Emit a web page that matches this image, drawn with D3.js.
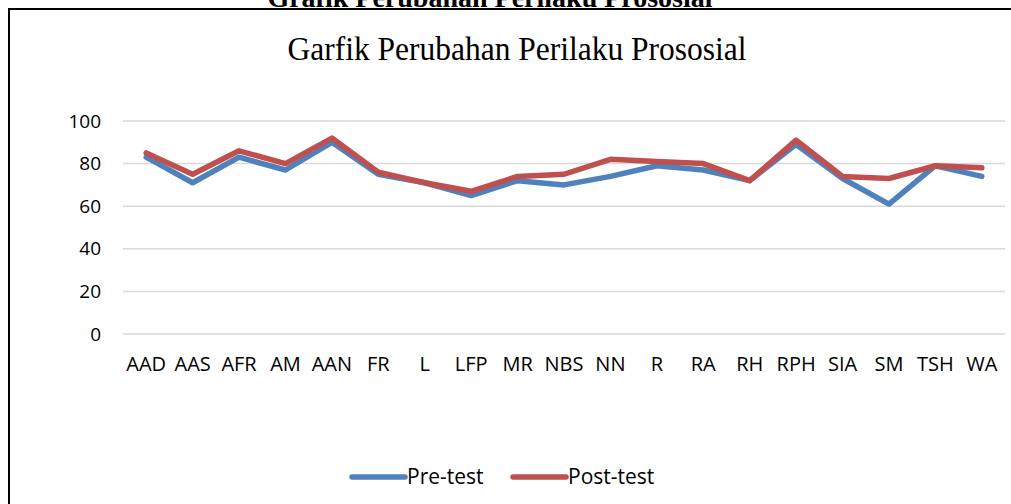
<!DOCTYPE html>
<html>
<head>
    <meta charset="UTF-8">
    <style>
        body { margin: 0; background: #fff; }
        svg { display: block; }
    </style>
</head>
<body>
    <svg></svg>
    <script src="https://d3js.org/d3.v7.min.js"></script>
    <script>
        const width = 1011, height = 504;

        // data
        const categories = ["AAD", "AAS", "AFR", "AM", "AAN", "FR", "L", "LFP", "MR", "NBS",
            "NN", "R", "RA", "RH", "RPH", "SIA", "SM", "TSH", "WA"];
        const preTest = [83, 71, 83, 77, 90, 75, 71, 65, 72, 70, 74, 79, 77, 72, 89, 73, 61, 79, 74];
        const postTest = [85, 75, 86, 80, 92, 76, 71, 67, 74, 75, 82, 81, 80, 72, 91, 74, 73, 79, 78];
        const yTicks = [0, 20, 40, 60, 80, 100];
        const seriesNames = ["Pre-test", "Post-test"];
        const seriesColors = ["#4F81BD", "#C0504D"];

        const svg = d3.select("svg")
            .attr("width", width)
            .attr("height", height);

        // outer frame (extends past right / bottom edge)
        svg.append("rect")
            .attr("x", 9).attr("y", 9)
            .attr("width", 1100).attr("height", 600)
            .attr("fill", "none")
            .attr("stroke", "#000")
            .attr("stroke-width", 2);

        // cut-off heading above the frame
        svg.append("text")
            .attr("x", 490).attr("y", 7)
            .attr("text-anchor", "middle")
            .attr("font-family", "Liberation Serif")
            .attr("font-weight", "bold")
            .attr("font-size", "28px")
            .text("Grafik Perubahan Perilaku Prososial");

        // chart title
        svg.append("text")
            .attr("x", 517).attr("y", 60)
            .attr("text-anchor", "middle")
            .attr("font-family", "Liberation Serif")
            .attr("font-size", "31.5px")
            .attr("transform", "translate(517,0) scale(1,1.06) translate(-517,-3)")
            .text("Garfik Perubahan Perilaku Prososial");

        const x = d3.scaleBand()
            .domain(categories)
            .range([123, 1005]);

        const y = d3.scaleLinear()
            .domain([0, 100])
            .range([334, 121]);

        // gridlines
        svg.append("g")
            .selectAll("line")
            .data(yTicks)
            .join("line")
            .attr("x1", 123).attr("x2", 1005)
            .attr("y1", d => y(d)).attr("y2", d => y(d))
            .attr("stroke", "#D9D9D9")
            .attr("stroke-width", 1.5);

        // y axis labels
        const yAxis = d3.axisLeft(y)
            .tickValues(yTicks)
            .tickSize(0)
            .tickPadding(22);
        svg.append("g")
            .attr("transform", "translate(123,0)")
            .call(yAxis)
            .call(g => g.select(".domain").remove())
            .selectAll("text")
            .attr("font-family", "Open Sans")
            .attr("font-size", "19px")
            .attr("fill", "#000");

        // x axis labels
        const xAxis = d3.axisBottom(x)
            .tickSize(0)
            .tickPadding(18);
        svg.append("g")
            .attr("transform", "translate(0,339)")
            .call(xAxis)
            .call(g => g.select(".domain").remove())
            .selectAll("text")
            .attr("font-family", "Open Sans")
            .attr("font-size", "20px")
            .attr("fill", "#000");

        const line = d3.line()
            .x((d, i) => x(categories[i]) + x.bandwidth() / 2)
            .y(d => y(d));

        [preTest, postTest].forEach((vals, i) => {
            svg.append("path")
                .datum(vals)
                .attr("d", line)
                .attr("fill", "none")
                .attr("stroke", seriesColors[i])
                .attr("stroke-width", 5.5)
                .attr("stroke-linejoin", "round")
                .attr("stroke-linecap", "round");
        });

        // legend
        const legend = svg.append("g")
            .selectAll("g")
            .data(seriesNames)
            .join("g")
            .attr("transform", (d, i) => "translate(" + (352 + i * 161) + ",477)");

        legend.append("line")
            .attr("x1", 0).attr("x2", 53)
            .attr("y1", 0).attr("y2", 0)
            .attr("stroke", (d, i) => seriesColors[i])
            .attr("stroke-width", 5.5)
            .attr("stroke-linecap", "round");

        legend.append("text")
            .attr("x", 55).attr("y", 7)
            .attr("font-family", "Open Sans")
            .attr("font-size", "21px")
            .text(d => d);
    </script>
</body>
</html>
